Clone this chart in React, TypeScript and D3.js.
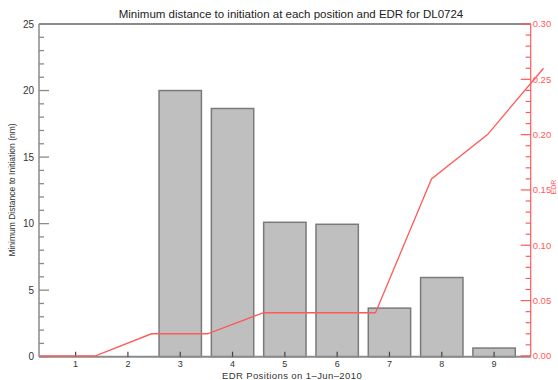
import * as d3 from "d3";
import { useEffect, useRef } from "react";

const positions = [1, 2, 3, 4, 5, 6, 7, 8, 9];
const minDistance = [0, 0, 20.0, 18.65, 10.1, 9.95, 3.65, 5.95, 0.65];
const edrIndex = [0, 1, 2, 3, 4, 5, 6, 7, 8, 9];
const edrValues = [0, 0, 0.02, 0.02, 0.039, 0.039, 0.039, 0.16, 0.2, 0.26];
const leftTicks = [0, 5, 10, 15, 20, 25];
const rightTicks = [0, 0.05, 0.1, 0.15, 0.2, 0.25, 0.3];

const title = "Minimum distance to initiation at each position and EDR for DL0724";
const xLabel = "EDR Positions on  1\u2013Jun\u20132010";
const yLabel = "Minimum Distance to Initiation (nm)";

const DistanceEdrChart = () => {
  const chartRef = useRef<HTMLDivElement>(null);

  useEffect(() => {
    document.body.style.margin = "0";
    const width = 558;
    const height = 380;
    const left = 39;
    const right = 530.7;
    const top = 24;
    const bottom = 356.7;
    const font = "Liberation Sans, Arial, Helvetica, sans-serif";
    const axisGray = "#8a8a8a";
    const red = "#ff5a5a";

    d3.select(chartRef.current).select("svg").remove();

    const svg = d3
      .select(chartRef.current)
      .append("svg")
      .attr("width", width)
      .attr("height", height)
      .style("display", "block")
      .style("background", "#fff");

    const x = d3.scaleLinear().domain([0.3, 9.7]).range([left, right]);
    const yLeft = d3.scaleLinear().domain([0, 25]).range([bottom, top]);
    const yRight = d3.scaleLinear().domain([0, 0.3]).range([bottom - 0.8, top]);
    const xEdr = d3.scaleLinear().domain([0, 9]).range([left + 0.5, 543.5]);
    const barWidth = x(1.81) - x(1);

    // bars
    const data = positions
      .map((p, i) => ({ p, v: minDistance[i] }))
      .filter((d) => d.v > 0);

    svg
      .append("g")
      .selectAll("rect")
      .data(data)
      .join("rect")
      .attr("x", (d) => x(d.p) - barWidth / 2)
      .attr("y", (d) => yLeft(d.v))
      .attr("width", barWidth)
      .attr("height", (d) => yLeft(0) - yLeft(d.v))
      .attr("fill", "#bfbfbf")
      .attr("stroke", "#7a7a7a")
      .attr("stroke-width", 1.5);

    // frame lines (left, top, bottom)
    const frame = svg.append("g").attr("stroke", axisGray).attr("fill", "none");
    frame.append("line").attr("x1", left).attr("x2", left).attr("y1", top).attr("y2", bottom).attr("stroke-width", 1.5);
    frame.append("line").attr("x1", left).attr("x2", right).attr("y1", top).attr("y2", top).attr("stroke-width", 2);
    frame.append("line").attr("x1", left).attr("x2", right).attr("y1", bottom).attr("y2", bottom).attr("stroke-width", 2);

    // left ticks
    const leftAxis = svg.append("g").attr("stroke", axisGray).attr("stroke-width", 1.3);
    leftAxis
      .selectAll("line")
      .data(d3.range(0, 26, 1))
      .join("line")
      .attr("x1", left)
      .attr("x2", (d) => left + (d % 5 === 0 ? 10 : 5))
      .attr("y1", (d) => yLeft(d))
      .attr("y2", (d) => yLeft(d));

    svg
      .append("g")
      .selectAll("text")
      .data(leftTicks)
      .join("text")
      .attr("x", left - 5)
      .attr("y", (d) => yLeft(d))
      .attr("dy", "0.35em")
      .attr("text-anchor", "end")
      .attr("font-family", font)
      .attr("font-size", 10)
      .attr("fill", "#333")
      .text((d) => d);

    // x ticks
    svg
      .append("g")
      .selectAll("line")
      .data(positions)
      .join("line")
      .attr("x1", (d) => x(d))
      .attr("x2", (d) => x(d))
      .attr("y1", bottom)
      .attr("y2", bottom - 5)
      .attr("stroke", "#444")
      .attr("stroke-width", 1.2);

    svg
      .append("g")
      .selectAll("text")
      .data(positions)
      .join("text")
      .attr("x", (d) => x(d))
      .attr("y", bottom + 10)
      .attr("text-anchor", "middle")
      .attr("font-family", font)
      .attr("font-size", 9)
      .attr("fill", "#333")
      .text((d) => d);

    // EDR line
    const line = d3
      .line<number>()
      .x((d, i) => xEdr(edrIndex[i]))
      .y((d) => yRight(d));

    svg
      .append("path")
      .attr("d", line(edrValues))
      .attr("fill", "none")
      .attr("stroke", red)
      .attr("stroke-width", 1.3);

    // right axis
    const rightAxis = svg.append("g").attr("stroke", red).attr("stroke-width", 1.2);
    rightAxis.append("line").attr("x1", right).attr("x2", right).attr("y1", top).attr("y2", bottom);
    rightAxis
      .selectAll(".tick")
      .data(d3.range(0, 31, 1))
      .join("line")
      .attr("class", "tick")
      .attr("x1", right)
      .attr("x2", (d) => right - (d % 5 === 0 ? 10 : 5))
      .attr("y1", (d) => yRight(d / 100))
      .attr("y2", (d) => yRight(d / 100));

    svg
      .append("g")
      .selectAll("text")
      .data(rightTicks)
      .join("text")
      .attr("x", right + 2)
      .attr("y", (d) => yRight(d))
      .attr("dy", "0.35em")
      .attr("font-family", font)
      .attr("font-size", 9.5)
      .attr("fill", red)
      .text((d) => d3.format(".2f")(d));

    // titles
    svg
      .append("text")
      .attr("x", 291)
      .attr("y", 18)
      .attr("text-anchor", "middle")
      .attr("font-family", font)
      .attr("font-size", 11.5)
      .attr("fill", "#222")
      .text(title);

    svg
      .append("text")
      .attr("x", 292)
      .attr("y", 378.5)
      .attr("text-anchor", "middle")
      .attr("font-family", font)
      .attr("font-size", 9.5)
      .attr("letter-spacing", 0.4)
      .attr("fill", "#333")
      .text(xLabel);

    svg
      .append("text")
      .attr("transform", `translate(15, 190) rotate(-90)`)
      .attr("text-anchor", "middle")
      .attr("font-family", font)
      .attr("font-size", 8.5)
      .attr("fill", "#333")
      .text(yLabel);

    svg
      .append("text")
      .attr("transform", `translate(556, 187) rotate(-90)`)
      .attr("text-anchor", "middle")
      .attr("font-family", font)
      .attr("font-size", 7)
      .attr("fill", red)
      .text("EDR");
  }, []);

  return <div ref={chartRef}></div>;
};

export default function App() {
  return <DistanceEdrChart />;
}
